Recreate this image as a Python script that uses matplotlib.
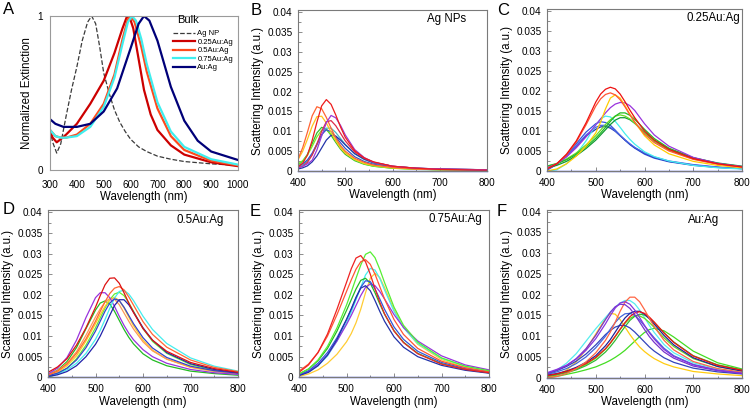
import matplotlib
matplotlib.use('Agg')
import matplotlib.pyplot as plt
from matplotlib.ticker import MultipleLocator, FuncFormatter

plt.rcParams['font.family'] = ['Liberation Sans', 'DejaVu Sans']

# ---------------- painel A (bulk, extincao normalizada) ----------------
A_WL_AGNP = [300, 310, 325, 340, 360, 380, 400, 420, 440, 455, 470, 485, 500, 520, 540, 560, 580, 600, 630, 660, 700, 750, 800, 900, 1000]
A_AGNP = [0.26, 0.18, 0.11, 0.17, 0.35, 0.52, 0.67, 0.84, 0.96, 1.0, 0.95, 0.80, 0.63, 0.50, 0.39, 0.31, 0.25, 0.20, 0.15, 0.12, 0.09, 0.07, 0.055, 0.04, 0.03]
A_WL_025 = [300, 310, 325, 340, 360, 400, 450, 500, 540, 570, 585, 595, 610, 630, 650, 675, 700, 750, 800, 900, 1000]
A_025 = [0.25, 0.21, 0.18, 0.20, 0.23, 0.30, 0.43, 0.58, 0.76, 0.92, 0.99, 1.0, 0.92, 0.72, 0.52, 0.36, 0.26, 0.16, 0.10, 0.05, 0.025]
A_WL_05 = [300, 320, 340, 360, 400, 450, 500, 540, 570, 590, 600, 615, 640, 660, 700, 750, 800, 900, 1000]
A_05 = [0.26, 0.22, 0.21, 0.21, 0.23, 0.30, 0.43, 0.62, 0.85, 0.98, 1.0, 0.96, 0.80, 0.64, 0.40, 0.22, 0.13, 0.06, 0.03]
A_WL_075 = [300, 320, 340, 360, 400, 450, 500, 540, 570, 590, 605, 620, 640, 660, 700, 750, 800, 900, 1000]
A_075 = [0.26, 0.22, 0.21, 0.21, 0.22, 0.28, 0.41, 0.60, 0.82, 0.96, 1.0, 0.97, 0.85, 0.69, 0.44, 0.25, 0.15, 0.07, 0.035]
A_WL_AU = [300, 320, 350, 400, 450, 500, 550, 600, 630, 650, 670, 700, 750, 800, 850, 900, 1000]
A_AU = [0.33, 0.30, 0.28, 0.28, 0.30, 0.38, 0.53, 0.79, 0.95, 1.0, 0.97, 0.84, 0.54, 0.32, 0.19, 0.12, 0.065]
A_LABELS = ['Ag NP', '0.25Au:Ag', '0.5Au:Ag', '0.75Au:Ag', 'Au:Ag']

# ---------------- painel B (Ag NPs) ----------------
WL_B = [400, 410, 420, 430, 440, 450, 460, 470, 480, 490, 500, 520, 540, 560, 600, 650, 700, 800]
B_RED = [0.001, 0.002, 0.004, 0.0077, 0.0123, 0.0164, 0.018, 0.0168, 0.0141, 0.0111, 0.0085, 0.0051, 0.0033, 0.0023, 0.0012, 0.0007, 0.0004, 0.0002]
B_ORANGE = [0.003, 0.0059, 0.0098, 0.0139, 0.0162, 0.0157, 0.0135, 0.0108, 0.0083, 0.0064, 0.005, 0.0032, 0.0022, 0.0015, 0.0009, 0.0005, 0.0004, 0.0002]
B_YELLOW = [0.0028, 0.005, 0.008, 0.0113, 0.0137, 0.0138, 0.0121, 0.0098, 0.0076, 0.0058, 0.0045, 0.0029, 0.0019, 0.0014, 0.0008, 0.0005, 0.0003, 0.0002]
B_PURPLE = [0.0008, 0.0012, 0.0018, 0.0027, 0.0053, 0.0088, 0.0122, 0.014, 0.0134, 0.0115, 0.0091, 0.0054, 0.0034, 0.0022, 0.0012, 0.0007, 0.0005, 0.0003]
B_CRIMSON = [0.0008, 0.0012, 0.0022, 0.004, 0.0068, 0.01, 0.0124, 0.0127, 0.0114, 0.0095, 0.0076, 0.0048, 0.0032, 0.0022, 0.0012, 0.0007, 0.0005, 0.0003]
B_GREEN = [0.0015, 0.0025, 0.0042, 0.0069, 0.0096, 0.011, 0.0105, 0.009, 0.0072, 0.0055, 0.0042, 0.0026, 0.0017, 0.0012, 0.0007, 0.0005, 0.0003, 0.0002]
B_LIME = [0.0018, 0.0026, 0.004, 0.0062, 0.0086, 0.0103, 0.0104, 0.0093, 0.0077, 0.006, 0.0046, 0.0028, 0.0018, 0.0012, 0.0007, 0.0004, 0.0003, 0.0002]
B_TEAL = [0.001, 0.0015, 0.0025, 0.0042, 0.0065, 0.009, 0.0108, 0.0108, 0.0097, 0.0082, 0.0067, 0.0043, 0.0029, 0.002, 0.0011, 0.0007, 0.0005, 0.0003]
B_BLUE = [0.0012, 0.0018, 0.0028, 0.0045, 0.0068, 0.0092, 0.0104, 0.0099, 0.0086, 0.0071, 0.0057, 0.0036, 0.0024, 0.0017, 0.001, 0.0006, 0.0004, 0.0002]
B_NAVY = [0.0005, 0.0008, 0.0013, 0.0023, 0.0038, 0.0058, 0.0078, 0.009, 0.0088, 0.0078, 0.0066, 0.0044, 0.003, 0.0021, 0.0012, 0.0007, 0.0005, 0.0003]

# ---------------- paineis C, D, E ----------------
WL_CDE = [400, 420, 440, 460, 480, 500, 510, 520, 530, 540, 550, 560, 570, 580, 600, 620, 650, 700, 750, 800]

C_RED = [0.0005, 0.0018, 0.0042, 0.0075, 0.012, 0.0172, 0.0192, 0.0204, 0.0209, 0.0205, 0.0192, 0.0173, 0.0152, 0.0133, 0.01, 0.0077, 0.0054, 0.0031, 0.0018, 0.001]
C_ORANGE = [0.0006, 0.0018, 0.004, 0.0072, 0.0115, 0.0162, 0.018, 0.0191, 0.0195, 0.019, 0.0178, 0.016, 0.014, 0.0122, 0.0092, 0.0071, 0.005, 0.0029, 0.0017, 0.001]
C_YELLOW = [0.0, 0.0005, 0.0018, 0.0037, 0.0062, 0.0095, 0.0122, 0.0155, 0.0182, 0.019, 0.0182, 0.0163, 0.0142, 0.0122, 0.0088, 0.0065, 0.0043, 0.0024, 0.0014, 0.0008]
C_PURPLE = [0.0008, 0.0018, 0.0035, 0.0058, 0.0085, 0.0115, 0.013, 0.0145, 0.0158, 0.0167, 0.0171, 0.017, 0.0163, 0.0151, 0.0118, 0.009, 0.0062, 0.0034, 0.0019, 0.0011]
C_GREEN = [0.0012, 0.0018, 0.0028, 0.0042, 0.006, 0.0082, 0.0095, 0.0109, 0.0124, 0.0137, 0.0145, 0.0145, 0.0139, 0.0129, 0.0104, 0.0081, 0.0057, 0.0033, 0.0019, 0.0011]
C_LIME = [0.0012, 0.0019, 0.003, 0.0045, 0.0065, 0.0088, 0.0102, 0.0116, 0.0128, 0.0137, 0.014, 0.0137, 0.013, 0.0119, 0.0095, 0.0074, 0.0052, 0.003, 0.0018, 0.001]
C_DKGREEN = [0.0008, 0.0014, 0.0024, 0.0038, 0.0056, 0.0077, 0.009, 0.0103, 0.0116, 0.0127, 0.0133, 0.0133, 0.0128, 0.0119, 0.0097, 0.0077, 0.0055, 0.0033, 0.002, 0.0012]
C_CYAN = [0.0, 0.0003, 0.0018, 0.0042, 0.0075, 0.0115, 0.013, 0.0137, 0.0135, 0.0124, 0.0109, 0.0093, 0.0079, 0.0067, 0.0048, 0.0036, 0.0025, 0.0014, 0.0008, 0.0005]
C_BLUE1 = [0.0002, 0.0017, 0.004, 0.0068, 0.0097, 0.0118, 0.0123, 0.0121, 0.0114, 0.0102, 0.0089, 0.0077, 0.0066, 0.0057, 0.0042, 0.0032, 0.0023, 0.0014, 0.0009, 0.0006]
C_BLUE2 = [0.0004, 0.0017, 0.0038, 0.0062, 0.0087, 0.0104, 0.011, 0.0111, 0.0107, 0.0099, 0.0088, 0.0077, 0.0067, 0.0058, 0.0044, 0.0034, 0.0024, 0.0015, 0.0009, 0.0006]
C_BLUE3 = [0.0003, 0.0016, 0.0037, 0.0063, 0.009, 0.0109, 0.0114, 0.0114, 0.0109, 0.01, 0.0089, 0.0078, 0.0068, 0.0059, 0.0045, 0.0035, 0.0025, 0.0016, 0.001, 0.0006]

D_RED = [0.0012, 0.0025, 0.0045, 0.0078, 0.012, 0.017, 0.0198, 0.0224, 0.024, 0.0241, 0.0228, 0.0205, 0.018, 0.0157, 0.0118, 0.009, 0.0063, 0.0036, 0.0021, 0.0012]
D_ORANGE = [0.0005, 0.0015, 0.0032, 0.0058, 0.0093, 0.0136, 0.016, 0.0183, 0.0203, 0.0216, 0.022, 0.0212, 0.0195, 0.0175, 0.0135, 0.0104, 0.0073, 0.0042, 0.0024, 0.0014]
D_CYAN = [0.0002, 0.0008, 0.0018, 0.0034, 0.0058, 0.0092, 0.0114, 0.014, 0.0167, 0.0192, 0.0208, 0.0211, 0.0202, 0.0186, 0.0148, 0.0116, 0.0082, 0.0047, 0.0027, 0.0015]
D_LIME = [0.0, 0.0008, 0.0022, 0.0045, 0.0078, 0.012, 0.0144, 0.0168, 0.0188, 0.0202, 0.0206, 0.0198, 0.0181, 0.016, 0.0118, 0.0087, 0.0058, 0.0031, 0.0017, 0.0009]
D_PURPLE = [0.0008, 0.0022, 0.0048, 0.009, 0.0145, 0.0193, 0.0205, 0.0205, 0.0193, 0.0172, 0.0148, 0.0126, 0.0107, 0.0091, 0.0067, 0.005, 0.0034, 0.0019, 0.0011, 0.0007]
D_YELLOW = [0.0003, 0.0012, 0.0028, 0.0052, 0.0088, 0.013, 0.0152, 0.0172, 0.0188, 0.0194, 0.0186, 0.0168, 0.0146, 0.0125, 0.009, 0.0066, 0.0044, 0.0024, 0.0014, 0.0008]
D_SALMON = [0.0006, 0.0016, 0.0034, 0.0062, 0.0102, 0.0146, 0.0166, 0.0182, 0.0191, 0.0189, 0.0176, 0.0156, 0.0136, 0.0117, 0.0086, 0.0064, 0.0044, 0.0025, 0.0015, 0.0009]
D_GREEN = [0.0006, 0.0017, 0.0038, 0.0072, 0.0118, 0.0163, 0.018, 0.0185, 0.0178, 0.016, 0.0138, 0.0116, 0.0097, 0.0081, 0.0057, 0.0042, 0.0028, 0.0015, 0.0009, 0.0005]
D_BLUE1 = [0.0004, 0.001, 0.0022, 0.0042, 0.0072, 0.0112, 0.0136, 0.016, 0.018, 0.019, 0.0186, 0.017, 0.015, 0.013, 0.0096, 0.0071, 0.0048, 0.0027, 0.0016, 0.001]
D_BLUE2 = [0.0002, 0.0006, 0.0014, 0.0028, 0.005, 0.008, 0.01, 0.0124, 0.015, 0.0174, 0.0188, 0.0188, 0.0176, 0.0158, 0.012, 0.009, 0.006, 0.0033, 0.0019, 0.0011]

E_RED = [0.0012, 0.003, 0.006, 0.0105, 0.0165, 0.023, 0.0263, 0.0289, 0.0295, 0.028, 0.025, 0.0215, 0.0182, 0.0154, 0.0112, 0.0084, 0.0057, 0.0032, 0.0019, 0.0011]
E_ORANGE = [0.0015, 0.0032, 0.006, 0.01, 0.0152, 0.0208, 0.0236, 0.0262, 0.028, 0.0285, 0.0274, 0.025, 0.022, 0.019, 0.014, 0.0104, 0.007, 0.0039, 0.0023, 0.0013]
E_LIME = [0.0008, 0.002, 0.0042, 0.0075, 0.012, 0.0175, 0.0207, 0.024, 0.0272, 0.0298, 0.0304, 0.029, 0.0262, 0.023, 0.017, 0.0126, 0.0085, 0.0047, 0.0027, 0.0016]
E_CYAN = [0.0005, 0.0013, 0.0028, 0.0052, 0.0088, 0.0132, 0.0158, 0.0188, 0.0218, 0.0248, 0.0264, 0.026, 0.024, 0.0212, 0.016, 0.012, 0.0082, 0.0046, 0.0027, 0.0016]
E_YELLOW = [0.0002, 0.0008, 0.0018, 0.0034, 0.0056, 0.0086, 0.0106, 0.0132, 0.0165, 0.0205, 0.024, 0.0252, 0.0242, 0.0218, 0.0164, 0.0121, 0.008, 0.0043, 0.0024, 0.0014]
E_GREEN = [0.0008, 0.002, 0.004, 0.007, 0.0112, 0.0162, 0.0188, 0.0214, 0.0235, 0.024, 0.0228, 0.0205, 0.0178, 0.0153, 0.0113, 0.0085, 0.0058, 0.0033, 0.0019, 0.0011]
E_BLUE1 = [0.0006, 0.0016, 0.0034, 0.006, 0.0096, 0.014, 0.0165, 0.0192, 0.0218, 0.0234, 0.0232, 0.0214, 0.019, 0.0165, 0.0122, 0.0092, 0.0063, 0.0036, 0.0021, 0.0013]
E_PURPLE = [0.0005, 0.0014, 0.003, 0.0054, 0.0088, 0.0128, 0.015, 0.0174, 0.0198, 0.0218, 0.0226, 0.0222, 0.0208, 0.019, 0.0152, 0.0121, 0.0088, 0.0052, 0.003, 0.0018]
E_BLUE2 = [0.0004, 0.0012, 0.0028, 0.0054, 0.0092, 0.014, 0.0166, 0.0194, 0.0216, 0.0222, 0.021, 0.0186, 0.016, 0.0136, 0.0098, 0.0073, 0.005, 0.0029, 0.0017, 0.001]

# ---------------- painel F (Au:Ag) ----------------
WL_F = [400, 420, 440, 460, 480, 500, 520, 530, 540, 550, 560, 570, 580, 590, 600, 610, 620, 640, 660, 700, 750, 800]
F_SALMON = [0.0, 0.0003, 0.001, 0.0022, 0.0038, 0.006, 0.009, 0.011, 0.0134, 0.016, 0.0182, 0.0194, 0.0194, 0.0183, 0.0164, 0.0143, 0.0123, 0.009, 0.0067, 0.0039, 0.0022, 0.0013]
F_CYAN = [0.0008, 0.0018, 0.0035, 0.0058, 0.0088, 0.0118, 0.0145, 0.0158, 0.017, 0.018, 0.0186, 0.0186, 0.0178, 0.0163, 0.0145, 0.0126, 0.0109, 0.008, 0.006, 0.0036, 0.0021, 0.0013]
F_PURPLE1 = [0.0012, 0.002, 0.003, 0.0045, 0.0066, 0.0094, 0.013, 0.015, 0.0168, 0.018, 0.0183, 0.0177, 0.0163, 0.0145, 0.0126, 0.0108, 0.0093, 0.0068, 0.0051, 0.0031, 0.0018, 0.0011]
F_PURPLE2 = [0.001, 0.0018, 0.0029, 0.0046, 0.007, 0.0102, 0.014, 0.0158, 0.0171, 0.0177, 0.0176, 0.0167, 0.0152, 0.0134, 0.0116, 0.0099, 0.0085, 0.0062, 0.0047, 0.0028, 0.0017, 0.001]
F_YELLOW = [0.0, 0.0006, 0.0018, 0.0038, 0.0068, 0.0105, 0.0143, 0.0155, 0.0153, 0.014, 0.0122, 0.0104, 0.0088, 0.0074, 0.0063, 0.0054, 0.0046, 0.0034, 0.0026, 0.0015, 0.0009, 0.0005]
F_BLUE1 = [0.0008, 0.0014, 0.0022, 0.0034, 0.005, 0.0072, 0.01, 0.0117, 0.0133, 0.0146, 0.0154, 0.0155, 0.015, 0.0139, 0.0125, 0.011, 0.0096, 0.0071, 0.0053, 0.0032, 0.0018, 0.0011]
F_NAVY = [0.0006, 0.001, 0.0016, 0.0025, 0.0037, 0.0053, 0.0077, 0.0092, 0.011, 0.0128, 0.0144, 0.0155, 0.016, 0.016, 0.0153, 0.0142, 0.0129, 0.0102, 0.0079, 0.0048, 0.0027, 0.0016]
F_RED = [0.0005, 0.0009, 0.0015, 0.0023, 0.0034, 0.0049, 0.007, 0.0084, 0.01, 0.0117, 0.0133, 0.0147, 0.0156, 0.0159, 0.0155, 0.0146, 0.0134, 0.0108, 0.0085, 0.0052, 0.003, 0.0018]
F_GREEN = [0.0003, 0.0007, 0.0012, 0.0019, 0.0029, 0.0042, 0.0062, 0.0075, 0.009, 0.0107, 0.0123, 0.0138, 0.0148, 0.0153, 0.0151, 0.0144, 0.0133, 0.0108, 0.0086, 0.0053, 0.0031, 0.0019]
F_LIME = [0.0004, 0.0008, 0.0013, 0.0021, 0.0032, 0.0047, 0.0069, 0.0083, 0.0099, 0.0116, 0.0131, 0.0143, 0.0149, 0.0149, 0.0143, 0.0133, 0.0121, 0.0096, 0.0075, 0.0046, 0.0027, 0.0016]
F_GREENLOW = [0.0, 0.0003, 0.0008, 0.0013, 0.0019, 0.0026, 0.0036, 0.0042, 0.0049, 0.0057, 0.0066, 0.0077, 0.0088, 0.0099, 0.0109, 0.0116, 0.0119, 0.0113, 0.0098, 0.0064, 0.0036, 0.0021]
F_BLUE2 = [0.001, 0.0017, 0.0027, 0.004, 0.0057, 0.0079, 0.0104, 0.0114, 0.0122, 0.0126, 0.0126, 0.012, 0.011, 0.0098, 0.0086, 0.0074, 0.0064, 0.0048, 0.0037, 0.0023, 0.0014, 0.0009]

# linha em zero (espectro vazio) presente em B-F
WL_ZERO = [400, 800]
ZERO = [0, 0]

CINZA = '#7a7a7a'


def estilo_espalhamento(ax, titulo, tx, ty, ha='left'):
    ax.set_xlim(400, 800)
    ax.set_ylim(0, 0.0405)
    ax.xaxis.set_major_locator(MultipleLocator(100))
    ax.xaxis.set_minor_locator(MultipleLocator(50))
    ax.yaxis.set_major_locator(MultipleLocator(0.005))
    ax.yaxis.set_minor_locator(MultipleLocator(0.0025))
    ax.yaxis.set_major_formatter(FuncFormatter(lambda v, p: '%g' % round(v, 4)))
    ax.tick_params(which='both', direction='in', color=CINZA, width=0.6)
    ax.tick_params(which='major', length=3, labelsize=7.2)
    ax.tick_params(which='minor', length=1.8)
    ax.tick_params(axis='x', pad=5)
    ax.tick_params(axis='y', pad=4)
    for s in ax.spines.values():
        s.set_color(CINZA)
        s.set_linewidth(0.8)
    ax.set_xlabel('Wavelength (nm)', fontsize=8.3, labelpad=1)
    ax.set_ylabel('Scattering Intensity (a.u.)', fontsize=8.3, labelpad=2)
    ax.text(tx, ty, titulo, transform=ax.transAxes, fontsize=8.3, ha=ha, va='center')


def desenha(ax, wl, curvas):
    for vals, cor in curvas:
        ax.plot(wl, vals, color=cor, lw=0.9)
    ax.plot(WL_ZERO, ZERO, color='#2a3fd0', lw=1.0, clip_on=False)


def eixo(fig, left, top, right, bottom):
    W, H = 753.0, 412.0
    return fig.add_axes([left / W, 1 - bottom / H, (right - left) / W, (bottom - top) / H])


def main():
    fig = plt.figure(figsize=(7.53, 4.12), dpi=100)

    # A
    ax = eixo(fig, 50, 16, 238, 170)
    ax.plot(A_WL_AGNP, A_AGNP, '--', color='#3a3a3a', lw=0.9, label=A_LABELS[0])
    ax.plot(A_WL_025, A_025, color='#cc0000', lw=1.6, label=A_LABELS[1])
    ax.plot(A_WL_05, A_05, color='#ff4a1c', lw=1.6, label=A_LABELS[2])
    ax.plot(A_WL_075, A_075, color='#40eeee', lw=1.6, label=A_LABELS[3])
    ax.plot(A_WL_AU, A_AU, color='#000078', lw=1.6, label=A_LABELS[4])
    ax.set_xlim(300, 1000)
    ax.set_ylim(0, 1)
    ax.set_xticks(range(300, 1001, 100))
    ax.set_yticks([0, 1])
    ax.set_yticklabels(['0', '1'])
    ax.tick_params(length=0, labelsize=7.2)
    ax.tick_params(axis='x', pad=7)
    ax.tick_params(axis='y', pad=5)
    for s in ax.spines.values():
        s.set_color('#9a9a9a')
        s.set_linewidth(0.8)
    ax.set_xlabel('Wavelength (nm)', fontsize=8.3, labelpad=1)
    ax.set_ylabel('Normalized Extinction', fontsize=8.3, labelpad=3)
    ax.text(0.674, 0.977, 'Bulk', transform=ax.transAxes, fontsize=8, ha='left', va='center')
    ax.legend(loc='upper left', bbox_to_anchor=(0.654, 0.91), frameon=False, fontsize=5.5,
              handlelength=2.9, handletextpad=0.3, labelspacing=0.15, borderpad=0, borderaxespad=0)

    # B
    ax = eixo(fig, 298, 10.3, 487, 171)
    desenha(ax, WL_B, [(B_GREEN, '#2fbf2f'), (B_LIME, '#7aee22'), (B_TEAL, '#4cbcbc'),
                       (B_BLUE, '#3355cc'), (B_NAVY, '#2233aa'), (B_YELLOW, '#ffc41a'),
                       (B_ORANGE, '#ff6433'), (B_CRIMSON, '#dd2a4a'), (B_PURPLE, '#9a3ad8'),
                       (B_RED, '#ee1c1c')])
    estilo_espalhamento(ax, 'Ag NPs', 0.681, 0.946)

    # C
    ax = eixo(fig, 547, 8.7, 742, 171)
    desenha(ax, WL_CDE, [(C_BLUE1, '#3355dd'), (C_BLUE2, '#2233aa'), (C_BLUE3, '#4a66e6'),
                         (C_CYAN, '#44eeee'), (C_DKGREEN, '#119933'), (C_LIME, '#66dd22'),
                         (C_GREEN, '#22bb22'), (C_PURPLE, '#9933dd'), (C_YELLOW, '#ffcc00'),
                         (C_ORANGE, '#ff5533'), (C_RED, '#ee1111')])
    estilo_espalhamento(ax, '0.25Au:Ag', 0.99, 0.943, ha='right')

    # D
    ax = eixo(fig, 48, 210.2, 238, 377.3)
    desenha(ax, WL_CDE, [(D_GREEN, '#22bb22'), (D_LIME, '#66ee33'), (D_YELLOW, '#ffcc22'),
                         (D_SALMON, '#ff9955'), (D_PURPLE, '#9933dd'), (D_CYAN, '#44eeee'),
                         (D_BLUE1, '#3344cc'), (D_BLUE2, '#2222aa'), (D_ORANGE, '#ff6633'),
                         (D_RED, '#dd1111')])
    estilo_espalhamento(ax, '0.5Au:Ag', 0.677, 0.941)

    # E
    ax = eixo(fig, 299, 210.2, 489, 377.3)
    desenha(ax, WL_CDE, [(E_YELLOW, '#ffcc33'), (E_CYAN, '#44eeee'), (E_GREEN, '#22bb22'),
                         (E_PURPLE, '#9933dd'), (E_BLUE1, '#3355dd'), (E_BLUE2, '#2233aa'),
                         (E_LIME, '#55ee33'), (E_ORANGE, '#ff5533'), (E_RED, '#ee2222')])
    estilo_espalhamento(ax, '0.75Au:Ag', 0.679, 0.947)

    # F
    ax = eixo(fig, 547, 209.6, 742, 377.7)
    desenha(ax, WL_F, [(F_GREENLOW, '#44dd22'), (F_YELLOW, '#ffcc11'), (F_CYAN, '#55eeee'),
                       (F_LIME, '#66dd22'), (F_GREEN, '#33bb33'), (F_BLUE2, '#3344bb'),
                       (F_BLUE1, '#4466dd'), (F_NAVY, '#222299'), (F_RED, '#ee1111'),
                       (F_SALMON, '#ff6644'), (F_PURPLE2, '#7733cc'), (F_PURPLE1, '#8833dd')])
    estilo_espalhamento(ax, 'Au:Ag', 0.7215, 0.938)

    # letras dos paineis
    for letra, x, y in [('A', 3, 2), ('B', 251, 3), ('C', 497, 3),
                        ('D', 3, 202), ('E', 250, 204), ('F', 497, 204)]:
        fig.text(x / 753, 1 - y / 412, letra, fontsize=12, ha='left', va='top')

    fig.savefig('out.png', dpi=100)


if __name__ == "__main__":
    main()
